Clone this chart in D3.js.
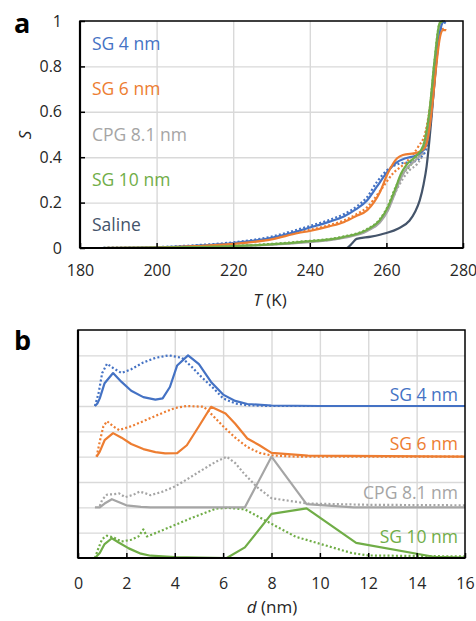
<!DOCTYPE html>
<html>
<head>
<meta charset="utf-8">
<script src="https://cdn.jsdelivr.net/npm/d3@7"></script>
<style>
  body { margin: 0; background: #fff; }
  svg text { font-family: "Open Sans", Lato, sans-serif; }
  .grid line { stroke: #d9d9d9; stroke-width: 1.4; }
  .grid path { display: none; }
  .axis path { display: none; }
  .axis line { stroke: #000; stroke-width: 1.5; }
  .axis text { fill: #262626; }
  .curve { fill: none; stroke-width: 2.2; stroke-linejoin: round; }
  .dotted { stroke-dasharray: 2,2.2; }
</style>
</head>
<body>
<svg id="chart" width="476" height="621"></svg>
<script>
// ---- panel a : S vs T ----
temp_ticks = [180, 200, 220, 240, 260, 280];
s_ticks    = [0, 0.2, 0.4, 0.6, 0.8, 1];

sg4_solid  = [[185,0],[200,0.003],[210,0.01],[220,0.022],[230,0.045],[237,0.075],[240,0.09],[245,0.115],[249,0.14],[252,0.17],[255,0.21],[257.5,0.27],[260,0.33],[262.5,0.375],[265,0.395],[268,0.41],[270,0.44],[271,0.5],[272,0.63],[273,0.82],[274,0.95],[274.8,0.995],[275.5,0.99]];
sg4_dot    = [[185,0],[200,0.004],[210,0.012],[220,0.025],[230,0.05],[237,0.082],[240,0.097],[245,0.123],[249,0.15],[252,0.18],[255,0.225],[257.5,0.29],[260,0.34],[263.5,0.372],[267,0.38],[269,0.4],[270.5,0.44],[271.5,0.55],[272.5,0.74],[273.5,0.9],[274.5,0.99],[275.3,1.0]];
sg6_solid  = [[185,0],[200,0.002],[210,0.008],[220,0.018],[230,0.038],[237,0.066],[240,0.075],[245,0.095],[249,0.115],[252,0.14],[255,0.167],[258.3,0.246],[260.4,0.33],[262.8,0.395],[264.3,0.41],[268,0.42],[270,0.44],[271,0.5],[272,0.63],[273,0.8],[274,0.93],[274.8,0.96],[275.6,0.96]];
sg6_dot    = [[185,0],[200,0.002],[210,0.009],[220,0.02],[230,0.04],[237,0.07],[240,0.08],[245,0.1],[249,0.122],[252,0.147],[255,0.18],[258.3,0.25],[261.8,0.33],[265.3,0.38],[268.3,0.446],[270.1,0.505],[271,0.58],[272,0.7],[273,0.85],[274,0.95],[274.8,0.965],[275.6,0.96]];
cpg_solid  = [[185,0],[200,0.002],[220,0.008],[237,0.022],[249,0.045],[255,0.075],[258.3,0.112],[260.4,0.165],[262.2,0.24],[264,0.315],[265.5,0.355],[267.5,0.385],[269.5,0.43],[271.3,0.58],[272.6,0.8],[274,0.97],[274.8,1.0],[275.3,0.995]];
cpg_dot    = [[185,0],[200,0.002],[220,0.008],[237,0.024],[249,0.047],[255,0.078],[258.3,0.116],[260.4,0.17],[262.5,0.25],[264.5,0.31],[266.1,0.344],[268,0.37],[269.8,0.43],[271.3,0.6],[272.6,0.82],[274,0.97],[274.8,1.0]];
sg10_solid = [[185,0],[200,0.002],[220,0.008],[237.4,0.026],[248.7,0.048],[254.9,0.08],[258.3,0.123],[260.4,0.18],[262.2,0.255],[263.9,0.33],[265.2,0.365],[267.4,0.4],[269.5,0.445],[271.3,0.61],[272.6,0.83],[273.9,0.99],[274.8,1.0]];
sg10_dot   = [[185,0],[200,0.002],[220,0.009],[237.4,0.028],[248.7,0.05],[254.9,0.083],[258.3,0.127],[260.4,0.185],[262.2,0.26],[264,0.32],[266.1,0.36],[267.4,0.39],[269.5,0.445],[271.3,0.61],[272.6,0.83],[273.9,0.99],[274.8,1.0]];
saline     = [[185,0],[249.6,0],[251,0.02],[252.2,0.04],[256,0.05],[260,0.066],[263,0.085],[266,0.12],[267.5,0.16],[268.7,0.21],[269.7,0.28],[270.5,0.36],[271.2,0.47],[271.8,0.58],[272.5,0.72],[273.1,0.83],[273.8,0.94],[274.4,0.99],[275,1.0]];

labels_a     = ["SG 4 nm", "SG 6 nm", "CPG 8.1 nm", "SG 10 nm", "Saline"];
labels_a_pos = [0.9, 0.7, 0.5, 0.3, 0.1];

// ---- panel b : pore size distributions (offset stacked) ----
d_ticks      = [0, 2, 4, 6, 8, 10, 12, 14, 16];
grid_b_ticks = [1, 2, 3, 4, 5, 6, 7, 8];
offsets      = [6, 4, 2, 0];

psd_sg4_solid  = [[0.7,0],[0.8,0.1],[0.9,0.3],[1.1,0.9],[1.45,1.3],[1.8,0.95],[2.2,0.6],[2.7,0.35],[3.2,0.25],[3.5,0.3],[3.8,0.75],[4.1,1.6],[4.55,2.0],[5.0,1.65],[5.5,0.95],[6.0,0.45],[6.5,0.2],[7.0,0.08],[8,0.02],[10,0],[16,0]];
psd_sg4_dot    = [[0.7,0],[0.85,0.5],[1.0,1.3],[1.2,1.67],[1.45,1.5],[1.8,1.3],[2.2,1.45],[2.7,1.72],[3.2,1.9],[3.75,2.0],[4.3,1.9],[4.7,1.55],[5.1,1.15],[5.6,0.7],[6.0,0.3],[6.5,0.1],[7,0.03],[8,0],[16,0]];
psd_sg6_solid  = [[0.77,0],[0.9,0.2],[1.1,0.65],[1.45,0.93],[1.8,0.75],[2.2,0.5],[2.7,0.3],[3.2,0.18],[3.6,0.13],[4.1,0.14],[4.5,0.45],[5.0,1.2],[5.5,1.97],[6.1,1.7],[6.5,1.3],[7.0,0.72],[7.5,0.45],[8.0,0.15],[9.5,0.04],[16,0]];
psd_sg6_dot    = [[0.77,0],[0.9,0.6],[1.05,1.2],[1.2,1.4],[1.45,1.2],[1.7,1.05],[2.2,1.2],[2.7,1.4],[3.3,1.65],[4.0,1.92],[4.5,2.0],[5.2,1.97],[5.6,1.6],[6.0,1.2],[6.5,0.75],[7.0,0.38],[7.5,0.15],[8.0,0.05],[9,0],[16,0]];
psd_cpg_solid  = [[0.7,0],[0.9,0],[1.1,0.15],[1.4,0.32],[1.7,0.2],[2.0,0.08],[2.6,0.02],[3,0],[6.9,0],[8.0,2.0],[9.45,0.13],[11.4,0],[16,0]];
psd_cpg_dot    = [[0.9,0.05],[1.0,0.3],[1.2,0.5],[1.5,0.52],[1.7,0.55],[1.95,0.4],[2.3,0.5],[2.55,0.62],[2.8,0.55],[3.0,0.48],[3.5,0.62],[4.0,0.82],[4.5,1.1],[5.0,1.4],[5.7,1.8],[6.15,2.0],[6.5,1.75],[6.85,1.35],[7.4,0.8],[8.0,0.36],[9.5,0.15],[12,0.1],[16,0.08]];
psd_sg10_solid = [[0.7,0],[0.9,0.2],[1.1,0.55],[1.4,0.78],[1.7,0.6],[2.1,0.38],[2.6,0.17],[3.0,0.09],[4.0,0.04],[5.0,0.02],[6.15,0],[6.9,0.42],[8.0,1.74],[9.45,1.96],[11.5,0.6],[14.7,0.05],[16,0.02]];
psd_sg10_dot   = [[0.7,0],[0.85,0.4],[1.0,0.75],[1.2,0.88],[1.5,0.8],[1.8,0.65],[2.2,0.72],[2.5,0.85],[2.7,1.13],[2.85,0.85],[3.3,1.02],[4.0,1.3],[4.8,1.62],[5.7,1.95],[6.2,1.98],[6.9,1.92],[7.8,1.45],[9.0,0.84],[10.4,0.45],[11.3,0.2],[12,0.1],[16,0.06]];

labels_b     = ["SG 4 nm", "SG 6 nm", "CPG 8.1 nm", "SG 10 nm"];
labels_b_pos = [6.44, 4.5, 2.57, 0.83];

var colors = { blue: "#4472c4", orange: "#ed7d31", gray: "#a5a5a5", green: "#70ad47", navy: "#44546a" };
var label_colors_a = [colors.blue, colors.orange, colors.gray, colors.green, colors.navy];
var series_colors_b = [colors.blue, colors.orange, colors.gray, colors.green];

var svg = d3.select("#chart");

// ================= panel a =================
var xA = d3.scaleLinear().domain([180, 280]).range([80, 463]),
    yA = d3.scaleLinear().domain([0, 1]).range([248, 21]);

var gA = svg.append("g");

gA.append("g").attr("class", "grid")
  .attr("transform", "translate(0,248)")
  .call(d3.axisBottom(xA).tickValues([200, 220, 240, 260]).tickSize(-(248 - 21)).tickFormat(""));
gA.append("g").attr("class", "grid")
  .attr("transform", "translate(80,0)")
  .call(d3.axisLeft(yA).tickValues([0.2, 0.4, 0.6, 0.8]).tickSize(-(463 - 80)).tickFormat(""));

var lineA = d3.line()
  .x(function(d) { return xA(d[0]); })
  .y(function(d) { return yA(d[1]); })
  .curve(d3.curveMonotoneX);

var seriesA = [
  { data: cpg_dot,    color: colors.gray,   dotted: true },
  { data: sg10_dot,   color: colors.green,  dotted: true },
  { data: sg6_dot,    color: colors.orange, dotted: true },
  { data: sg4_dot,    color: colors.blue,   dotted: true },
  { data: saline,     color: colors.navy,   dotted: false },
  { data: cpg_solid,  color: colors.gray,   dotted: false },
  { data: sg4_solid,  color: colors.blue,   dotted: false },
  { data: sg6_solid,  color: colors.orange, dotted: false },
  { data: sg10_solid, color: colors.green,  dotted: false }
];

gA.selectAll(".curve")
  .data(seriesA)
  .enter().append("path")
    .attr("class", function(d) { return d.dotted ? "curve dotted" : "curve"; })
    .attr("stroke", function(d) { return d.color; })
    .attr("d", function(d) { return lineA(d.data); });

// frame
gA.append("rect")
  .attr("x", 80).attr("y", 21).attr("width", 463 - 80).attr("height", 248 - 21)
  .attr("fill", "none").attr("stroke", "#000").attr("stroke-width", 1.5);

var axA_x = gA.append("g").attr("class", "axis")
  .attr("transform", "translate(0,248)")
  .call(d3.axisBottom(xA).tickValues(temp_ticks).tickSize(-5).tickPadding(17));
var axA_y = gA.append("g").attr("class", "axis")
  .attr("transform", "translate(80,0)")
  .call(d3.axisLeft(yA).tickValues(s_ticks).tickSize(-5).tickPadding(18)
        .tickFormat(function(d) { return String(d); }));
[axA_x, axA_y].forEach(function(ax) {
  ax.attr("font-size", 16).attr("font-family", null);
});

gA.append("line").attr("x1", 80).attr("x2", 463).attr("y1", 248).attr("y2", 248)
  .attr("stroke", "#000").attr("stroke-width", 2.2);
gA.append("line").attr("x1", 80).attr("x2", 80).attr("y1", 21).attr("y2", 248)
  .attr("stroke", "#000").attr("stroke-width", 2.2);

gA.selectAll(".lab")
  .data(labels_a)
  .enter().append("text")
    .attr("class", "lab")
    .attr("x", 92)
    .attr("y", function(d, i) { return yA(labels_a_pos[i]); })
    .attr("dy", "0.35em")
    .attr("font-size", 17.5)
    .attr("fill", function(d, i) { return label_colors_a[i]; })
    .text(function(d) { return d; });

svg.append("text").attr("x", 14).attr("y", 33)
  .attr("font-size", 27).attr("font-weight", "bold").text("a");
svg.append("text")
  .attr("transform", "translate(31,135) rotate(-90)")
  .attr("text-anchor", "middle").attr("font-size", 17).attr("font-style", "italic")
  .attr("fill", "#262626").text("S");
var tl = svg.append("text").attr("x", 270).attr("y", 306)
  .attr("text-anchor", "middle").attr("font-size", 17).attr("fill", "#262626");
tl.append("tspan").attr("font-style", "italic").text("T");
tl.append("tspan").text(" (K)");

// ================= panel b =================
var xB = d3.scaleLinear().domain([0, 16]).range([78, 465]),
    yB = d3.scaleLinear().domain([0, 9]).range([558, 330]);

var gB = svg.append("g");

gB.append("g").attr("class", "grid")
  .attr("transform", "translate(0,558)")
  .call(d3.axisBottom(xB).tickValues([2, 4, 6, 8, 10, 12, 14]).tickSize(-(558 - 330)).tickFormat(""));
gB.append("g").attr("class", "grid")
  .attr("transform", "translate(78,0)")
  .call(d3.axisLeft(yB).tickValues(grid_b_ticks).tickSize(-(465 - 78)).tickFormat(""));

var seriesB = [
  { data: psd_sg4_dot,    k: 0, dotted: true },
  { data: psd_sg6_dot,    k: 1, dotted: true },
  { data: psd_cpg_dot,    k: 2, dotted: true },
  { data: psd_sg10_dot,   k: 3, dotted: true },
  { data: psd_sg4_solid,  k: 0, dotted: false },
  { data: psd_sg6_solid,  k: 1, dotted: false },
  { data: psd_cpg_solid,  k: 2, dotted: false },
  { data: psd_sg10_solid, k: 3, dotted: false }
];

gB.selectAll(".curve")
  .data(seriesB)
  .enter().append("path")
    .attr("class", function(d) { return d.dotted ? "curve dotted" : "curve"; })
    .attr("stroke", function(d) { return series_colors_b[d.k]; })
    .attr("d", function(d) {
      var off = offsets[d.k];
      return d3.line()
        .x(function(p) { return xB(p[0]); })
        .y(function(p) { return yB(p[1] + off); })(d.data);
    });

gB.append("rect")
  .attr("x", 78).attr("y", 330).attr("width", 465 - 78).attr("height", 558 - 330)
  .attr("fill", "none").attr("stroke", "#000").attr("stroke-width", 1.5);

var axB_x = gB.append("g").attr("class", "axis")
  .attr("transform", "translate(0,558)")
  .call(d3.axisBottom(xB).tickValues(d_ticks).tickSize(-5).tickPadding(20));
axB_x.attr("font-size", 16).attr("font-family", null);

gB.append("line").attr("x1", 78).attr("x2", 465).attr("y1", 558).attr("y2", 558)
  .attr("stroke", "#000").attr("stroke-width", 2.2);
gB.append("line").attr("x1", 78).attr("x2", 78).attr("y1", 330).attr("y2", 558)
  .attr("stroke", "#000").attr("stroke-width", 2.2);

gB.selectAll(".lab")
  .data(labels_b)
  .enter().append("text")
    .attr("class", "lab")
    .attr("x", 458)
    .attr("y", function(d, i) { return yB(labels_b_pos[i]); })
    .attr("dy", "0.35em")
    .attr("text-anchor", "end")
    .attr("font-size", 17.5)
    .attr("fill", function(d, i) { return series_colors_b[i]; })
    .text(function(d) { return d; });

svg.append("text").attr("x", 14).attr("y", 350)
  .attr("font-size", 27).attr("font-weight", "bold").text("b");
var dl = svg.append("text").attr("x", 272).attr("y", 613)
  .attr("text-anchor", "middle").attr("font-size", 17).attr("fill", "#262626");
dl.append("tspan").attr("font-style", "italic").text("d");
dl.append("tspan").text(" (nm)");
</script>
</body>
</html>
